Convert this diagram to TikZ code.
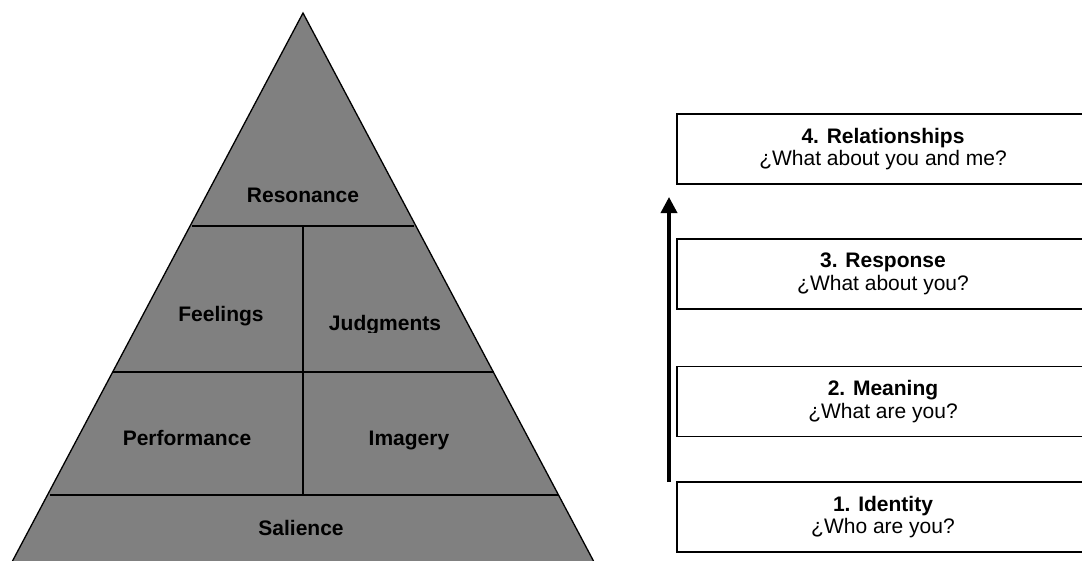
\documentclass[tikz,border=0pt]{standalone}
\usepackage{fontspec}
\setmainfont{Liberation Sans}
\usetikzlibrary{arrows.meta}
\begin{document}
\begin{tikzpicture}[x=1pt,y=-1pt,
  pyr/.style={fill=pyrgray,draw=black,line width=1.3pt},
  divline/.style={draw=black,line width=1.8pt},
  lvl/.style={font=\bfseries\fontsize{21}{23}\selectfont,anchor=base},
  qbox/.style={draw=black,line width=1.6pt,minimum width=412pt,minimum height=70pt,
    align=center,inner sep=0pt,font=\fontsize{21}{22.5}\selectfont},
  uparrow/.style={line width=3.5pt,-{Triangle[width=16pt,length=16pt]}}]
\definecolor{pyrgray}{HTML}{808080}
\useasboundingbox (0,0) rectangle (1082,560);
\clip (0,0) rectangle (1082,560);
% pyramid
\path[pyr] (303,13) coordinate (apex) -- (-5,594) coordinate (bl) -- (611,594) coordinate (br) -- cycle;
\coordinate (r1l) at (192,226); \coordinate (r1r) at (414,226);
\coordinate (r2l) at (113,372); \coordinate (r2r) at (494,372);
\coordinate (r3l) at (50,495);  \coordinate (r3r) at (558,495);
\coordinate (vt) at (303,226);  \coordinate (vb) at (303,495);
\draw[divline] (r1l) -- (r1r);
\draw[divline] (r2l) -- (r2r);
\draw[divline] (r3l) -- (r3r);
\draw[divline] (vt) -- (vb);
\node[lvl] (reso) at (303,202) {Resonance};
\node[lvl] (feel) at (221,321) {Feelings};
\begin{scope}
\clip (305,228) rectangle (470,332);
\node[lvl] (judg) at (385,330) {Judgments};
\end{scope}
\node[lvl] (perf) at (187,445) {Performance};
\node[lvl] (imag) at (409,445) {Imagery};
\node[lvl] (sali) at (301,535) {Salience};
% right boxes
\node[qbox] (b4) at (883,149) {\textbf{4. Relationships}\\¿What about you and me?};
\node[qbox] (b3) at (883,274) {\textbf{3. Response}\\¿What about you?};
\node[qbox] (b2) at (883,401.5) {\textbf{2. Meaning}\\¿What are you?};
\node[qbox] (b1) at (883,517) {\textbf{1. Identity}\\¿Who are you?};
\coordinate (as) at (669,482);
\coordinate (ae) at (669,197);
\draw[uparrow] (as) -- (ae);
\end{tikzpicture}
\end{document}
